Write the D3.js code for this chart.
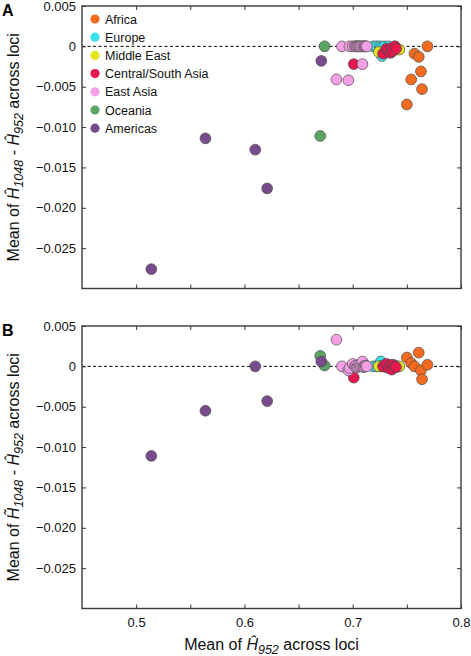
<!DOCTYPE html>
<html>
<head>
<meta charset="utf-8">
<script src="https://cdn.jsdelivr.net/npm/d3@7"></script>
<style>
  html, body { margin: 0; padding: 0; background: #fff; }
  svg { display: block; font-family: "Liberation Sans", Arial, Helvetica, sans-serif; }
</style>
</head>
<body>
<svg id="chart" width="471" height="656"></svg>
<script>
// ---------- DATA ----------
const regions = ["Africa", "Europe", "Middle East", "Central/South Asia", "East Asia", "Oceania", "Americas"];
const regionColors = ["#f26b1f", "#3ee2ea", "#e1e41f", "#e6164f", "#f5a0e6", "#5aa564", "#784c8c"];

// x = mean of H952 across loci; A = mean(H1048 - H952); B = mean(H~1048 - H952)
const africaX = [0.750, 0.754, 0.757, 0.761, 0.763, 0.764, 0.769];
const africaA = [-0.0072, -0.0041, -0.0009, -0.0013, -0.0031, -0.0053, 0.0000];
const africaB = [0.0011, 0.0004, 0.0000, 0.0017, -0.0005, -0.0016, 0.0002];

const europeX = [0.719, 0.722, 0.725, 0.726, 0.727, 0.729, 0.731, 0.733];
const europeA = [0.0000, 0.0000, 0.0000, -0.0002, -0.0012, 0.0000, -0.0007, 0.0000];
const europeB = [0.0000, 0.0000, 0.0000, 0.0006, 0.0001, 0.0000, -0.0001, 0.0002];

const middleEastX = [0.724, 0.737, 0.739, 0.743];
const middleEastA = [-0.0007, -0.0002, 0.0000, -0.0004];
const middleEastB = [0.0000, -0.0001, 0.0001, 0.0000];

const csAsiaX = [0.701, 0.728, 0.731, 0.733, 0.735, 0.736, 0.737, 0.739, 0.740];
const csAsiaA = [-0.0022, -0.0009, -0.0003, -0.0005, -0.0008, -0.0002, -0.0006, 0.0000, -0.0003];
const csAsiaB = [-0.0014, 0.0000, 0.0003, -0.0002, 0.0001, -0.0004, 0.0002, 0.0000, -0.0001];

const eastAsiaX = [0.685, 0.690, 0.696, 0.697, 0.700, 0.702, 0.703, 0.704, 0.705, 0.706, 0.707, 0.708, 0.709, 0.710, 0.710, 0.711, 0.712, 0.713];
const eastAsiaA = [-0.0041, 0.0000, -0.0042, 0.0000, 0.0000, 0.0000, 0.0000, 0.0000, 0.0000, 0.0000, 0.0000, 0.0000, -0.0022, 0.0000, 0.0000, 0.0000, 0.0000, 0.0000];
const eastAsiaB = [0.0033, 0.0000, -0.0005, -0.0002, 0.0003, 0.0000, 0.0001, -0.0001, 0.0000, 0.0002, 0.0000, 0.0001, 0.0006, 0.0000, -0.0001, 0.0000, 0.0001, 0.0000];

const oceaniaX = [0.670, 0.674];
const oceaniaA = [-0.0111, 0.0000];
const oceaniaB = [0.0013, 0.0001];

const americasX = [0.514, 0.564, 0.610, 0.621, 0.671];
const americasA = [-0.0276, -0.0114, -0.0128, -0.0176, -0.0018];
const americasB = [-0.0111, -0.0055, 0.0000, -0.0043, 0.0006];

const xTicks = [0.5, 0.55, 0.6, 0.65, 0.7, 0.75, 0.8];
const xTickLabels = ["0.5", "", "0.6", "", "0.7", "", "0.8"];
const yTicks = [0.005, 0, -0.005, -0.010, -0.015, -0.020, -0.025];
const yTickLabels = ["0.005", "0", "\u22120.005", "\u22120.010", "\u22120.015", "\u22120.020", "\u22120.025"];

// ---------- BUILD ----------
const groups = [
  [africaX, africaA, africaB],
  [europeX, europeA, europeB],
  [middleEastX, middleEastA, middleEastB],
  [csAsiaX, csAsiaA, csAsiaB],
  [eastAsiaX, eastAsiaA, eastAsiaB],
  [oceaniaX, oceaniaA, oceaniaB],
  [americasX, americasA, americasB]
];
const points = [];
groups.forEach((g, gi) => {
  g[0].forEach((x, i) => points.push({ region: gi, x: x, a: g[1][i], b: g[2][i] }));
});

const svg = d3.select("#chart");
const left = 82, right = 461;
const x = d3.scaleLinear().domain([0.45, 0.8]).range([left, right]);

const panels = [
  { key: "a", top: 6, bottom: 288.5, label: "A", tilde: false },
  { key: "b", top: 326, bottom: 608.5, label: "B", tilde: true }
];

panels.forEach((p, pi) => {
  const y = d3.scaleLinear().domain([-0.030, 0.005]).range([p.bottom, p.top]);
  const g = svg.append("g");

  // zero dashed line
  g.append("line")
    .attr("x1", left).attr("x2", right)
    .attr("y1", y(0)).attr("y2", y(0))
    .attr("stroke", "#000").attr("stroke-width", 1)
    .attr("stroke-dasharray", "3,2.5");

  // axes (inward ticks)
  const fmtY = d => yTickLabels[yTicks.indexOf(d)];
  const fmtX = d => xTickLabels[xTicks.indexOf(d)];
  const axL = g.append("g").attr("transform", `translate(${left},0)`)
    .call(d3.axisLeft(y).tickValues(yTicks).tickFormat(fmtY).tickSizeInner(-4).tickSizeOuter(0).tickPadding(6));
  const axR = g.append("g").attr("transform", `translate(${right},0)`)
    .call(d3.axisRight(y).tickValues(yTicks).tickFormat("").tickSizeInner(-4).tickSizeOuter(0));
  const axT = g.append("g").attr("transform", `translate(0,${p.top})`)
    .call(d3.axisTop(x).tickValues(xTicks).tickFormat("").tickSizeInner(-4).tickSizeOuter(0));
  const axB = g.append("g").attr("transform", `translate(0,${p.bottom})`)
    .call(d3.axisBottom(x).tickValues(xTicks).tickFormat(pi === 1 ? fmtX : "").tickSizeInner(-4).tickSizeOuter(0).tickPadding(9));
  [axL, axR, axT, axB].forEach(ax => {
    ax.select(".domain").remove();
    ax.selectAll(".tick line").attr("stroke", "#333").attr("stroke-width", 1);
    ax.selectAll(".tick text").attr("font-size", 13).attr("fill", "#111")
      .attr("font-family", "'Liberation Sans', Arial, Helvetica, sans-serif");
  });

  // frame
  g.append("rect")
    .attr("x", left).attr("y", p.top)
    .attr("width", right - left).attr("height", p.bottom - p.top)
    .attr("fill", "none").attr("stroke", "#3a3a3a").attr("stroke-width", 1.4);

  // points
  g.append("g").selectAll("circle").data(points).join("circle")
    .attr("cx", d => x(d.x))
    .attr("cy", d => y(d[p.key]))
    .attr("r", 5.4)
    .attr("fill", d => regionColors[d.region])
    .attr("stroke", "#4a4a4a").attr("stroke-width", 0.7);

  // panel letter
  svg.append("text").attr("x", 2).attr("y", p.top + 10)
    .attr("font-size", 16).attr("font-weight", "bold").attr("fill", "#000")
    .text(p.label);

  // y-axis title
  const cy = (p.top + p.bottom) / 2;
  const t = svg.append("text")
    .attr("transform", `translate(19,${cy}) rotate(-90)`)
    .attr("text-anchor", "middle").attr("font-size", 16).attr("fill", "#111");
  t.append("tspan").text("Mean of ");
  t.append("tspan").attr("font-style", "italic").text(p.tilde ? "H\u0303" : "\u0124");
  t.append("tspan").attr("font-style", "italic").attr("font-size", 12.5).attr("dy", 4).text("1048");
  t.append("tspan").attr("dy", -4).text(" - ");
  t.append("tspan").attr("font-style", "italic").text("\u0124");
  t.append("tspan").attr("font-style", "italic").attr("font-size", 12.5).attr("dy", 4).text("952");
  t.append("tspan").attr("dy", -4).text(" across loci");
});

// x-axis title
const xt = svg.append("text").attr("x", (left + right) / 2).attr("y", 650)
  .attr("text-anchor", "middle").attr("font-size", 16).attr("fill", "#111");
xt.append("tspan").text("Mean of ");
xt.append("tspan").attr("font-style", "italic").text("\u0124");
xt.append("tspan").attr("font-style", "italic").attr("font-size", 12.5).attr("dy", 4).text("952");
xt.append("tspan").attr("dy", -4).text(" across loci");

// legend (panel A)
const lg = svg.append("g");
regions.forEach((r, i) => {
  const ly = 19 + i * 18.2;
  lg.append("circle").attr("cx", 95).attr("cy", ly).attr("r", 4.6).attr("fill", regionColors[i]);
  lg.append("text").attr("x", 105).attr("y", ly + 4.5).attr("font-size", 12.5).attr("fill", "#111").text(r);
});
</script>
</body>
</html>
